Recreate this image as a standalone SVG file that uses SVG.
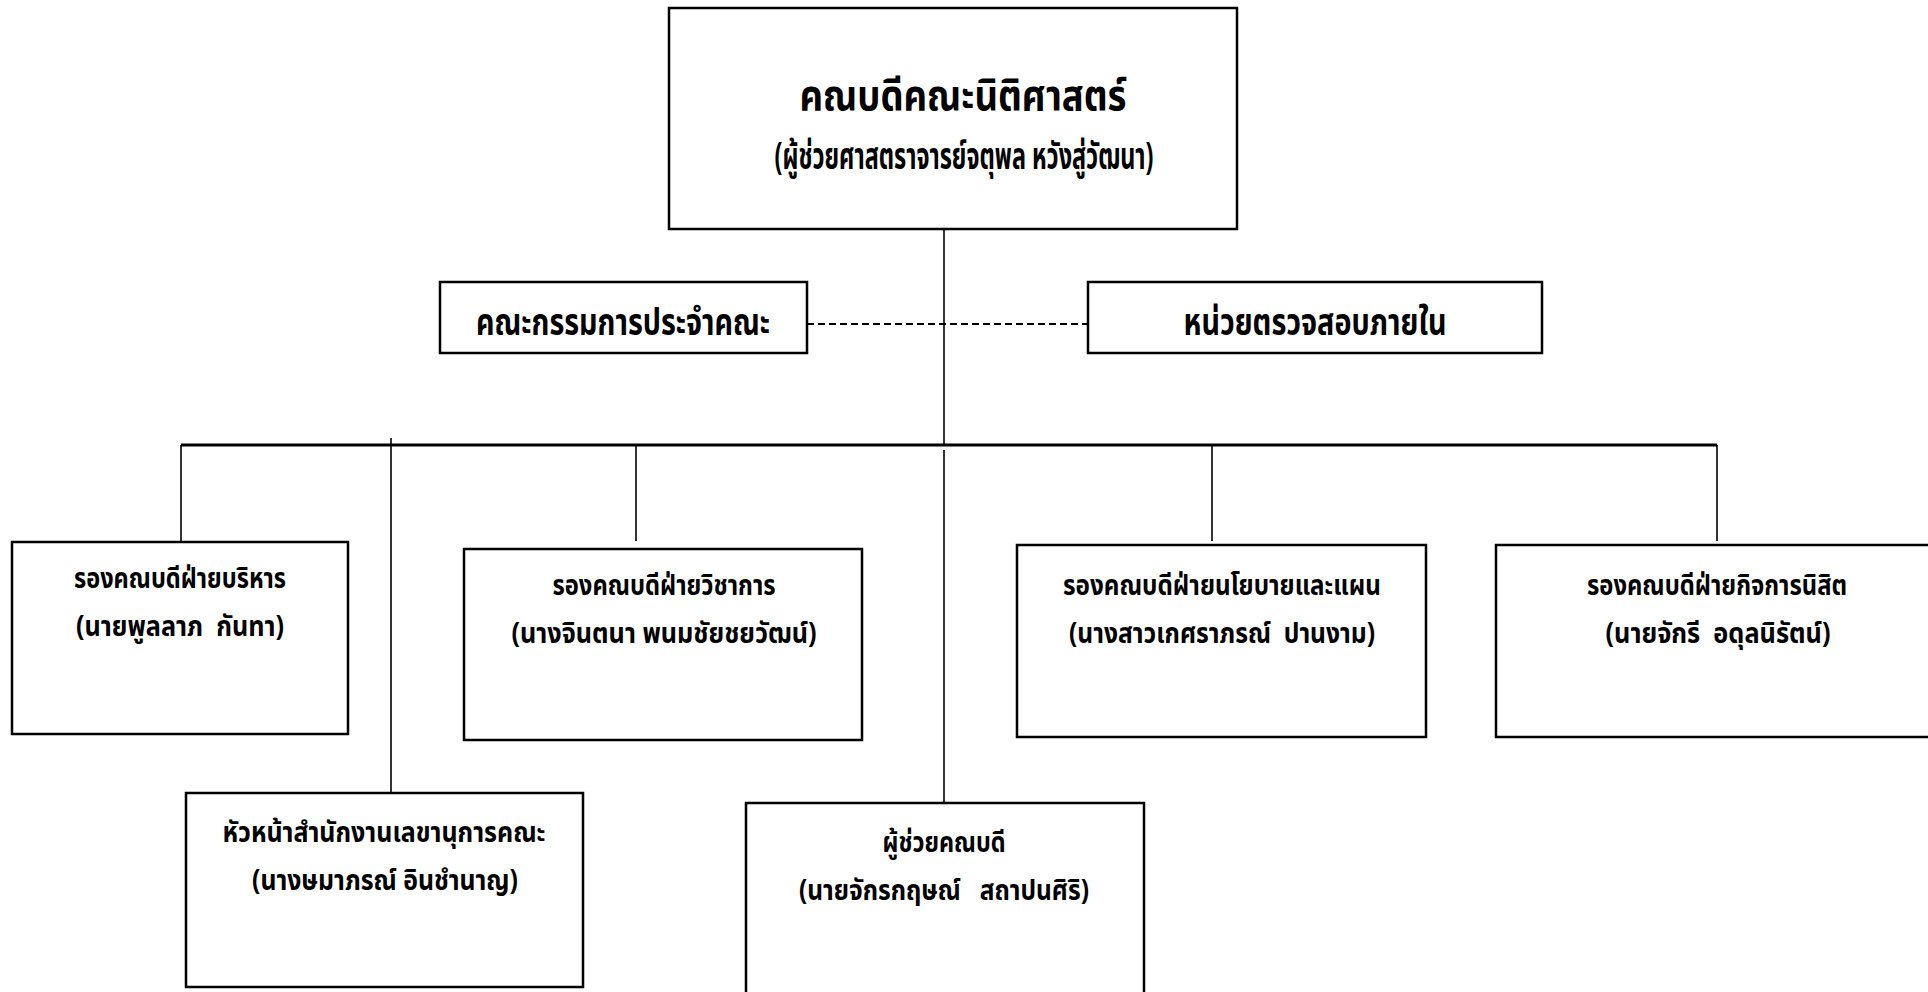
<svg xmlns="http://www.w3.org/2000/svg" width="1928" height="992" viewBox="0 0 1928 992">
<style>
.box{fill:#fff;stroke:#000;stroke-width:2.5}
.ln{stroke:#000;stroke-width:1.6;fill:none}
.bar{stroke:#000;stroke-width:3;fill:none}
.dash{stroke:#000;stroke-width:2.2;stroke-dasharray:7 4;fill:none}
text{font-family:"Noto Sans Thai","Noto Sans","DejaVu Sans",sans-serif;font-weight:bold;fill:#000;text-anchor:middle;white-space:pre}
.t1{font-size:43px}
.t2{font-size:37px}
.mid{font-size:37px}
.lb{font-size:28px}
</style>
<rect width="1928" height="992" fill="#fff"/>
<g id="connectors">
<line class="ln" x1="944" y1="229" x2="944" y2="445"/>
<line class="dash" x1="807" y1="324" x2="1088" y2="324"/>
<line class="bar" x1="181" y1="445" x2="1717" y2="445"/>
<line class="ln" x1="181" y1="445" x2="181" y2="541"/>
<line class="ln" x1="636" y1="445" x2="636" y2="541"/>
<line class="ln" x1="1212" y1="445" x2="1212" y2="541"/>
<line class="ln" x1="1717" y1="445" x2="1717" y2="541"/>
<line class="ln" x1="391" y1="438" x2="391" y2="793"/>
<line class="ln" x1="944" y1="450" x2="944" y2="810"/>
</g>
<g id="dean">
<rect class="box" x="669" y="8" width="568" height="221"/>
<text class="t1" x="963" y="110" textLength="327" lengthAdjust="spacingAndGlyphs">คณบดีคณะนิติศาสตร์</text>
<text class="t2" x="964" y="169" textLength="379" lengthAdjust="spacingAndGlyphs">(ผู้ช่วยศาสตราจารย์จตุพล หวังสู่วัฒนา)</text>
</g>
<g id="committee">
<rect class="box" x="440" y="282" width="367" height="71"/>
<text class="mid" x="623" y="335" textLength="294" lengthAdjust="spacingAndGlyphs">คณะกรรมการประจำคณะ</text>
</g>
<g id="audit">
<rect class="box" x="1088" y="282" width="454" height="71"/>
<text class="mid" x="1315" y="335" textLength="263" lengthAdjust="spacingAndGlyphs">หน่วยตรวจสอบภายใน</text>
</g>
<g id="vd-admin">
<rect class="box" x="12" y="542" width="336" height="192"/>
<text class="lb" x="180" y="588" textLength="212" lengthAdjust="spacingAndGlyphs">รองคณบดีฝ่ายบริหาร</text>
<text class="lb" x="180" y="636" textLength="208" lengthAdjust="spacingAndGlyphs">(นายพูลลาภ  กันทา)</text>
</g>
<g id="vd-academic">
<rect class="box" x="464" y="549" width="398" height="191"/>
<text class="lb" x="664" y="595" textLength="223" lengthAdjust="spacingAndGlyphs">รองคณบดีฝ่ายวิชาการ</text>
<text class="lb" x="664" y="643" textLength="305" lengthAdjust="spacingAndGlyphs">(นางจินตนา พนมชัยชยวัฒน์)</text>
</g>
<g id="vd-policy">
<rect class="box" x="1017" y="545" width="409" height="192"/>
<text class="lb" x="1222" y="595" textLength="318" lengthAdjust="spacingAndGlyphs">รองคณบดีฝ่ายนโยบายและแผน</text>
<text class="lb" x="1222" y="643" textLength="306" lengthAdjust="spacingAndGlyphs">(นางสาวเกศราภรณ์  ปานงาม)</text>
</g>
<g id="vd-student">
<rect class="box" x="1496" y="545" width="440" height="192"/>
<text class="lb" x="1717" y="595" textLength="260" lengthAdjust="spacingAndGlyphs">รองคณบดีฝ่ายกิจการนิสิต</text>
<text class="lb" x="1718" y="643" textLength="225" lengthAdjust="spacingAndGlyphs">(นายจักรี  อดุลนิรัตน์)</text>
</g>
<g id="secretary">
<rect class="box" x="186" y="793" width="397" height="194"/>
<text class="lb" x="384" y="842" textLength="323" lengthAdjust="spacingAndGlyphs">หัวหน้าสำนักงานเลขานุการคณะ</text>
<text class="lb" x="385" y="890" textLength="266" lengthAdjust="spacingAndGlyphs">(นางษมาภรณ์ อินชำนาญ)</text>
</g>
<g id="assistant">
<rect class="box" x="746" y="803" width="398" height="200"/>
<text class="lb" x="944" y="852" textLength="123" lengthAdjust="spacingAndGlyphs">ผู้ช่วยคณบดี</text>
<text class="lb" x="944" y="900" textLength="290" lengthAdjust="spacingAndGlyphs">(นายจักรกฤษณ์   สถาปนศิริ)</text>
</g>
</svg>
